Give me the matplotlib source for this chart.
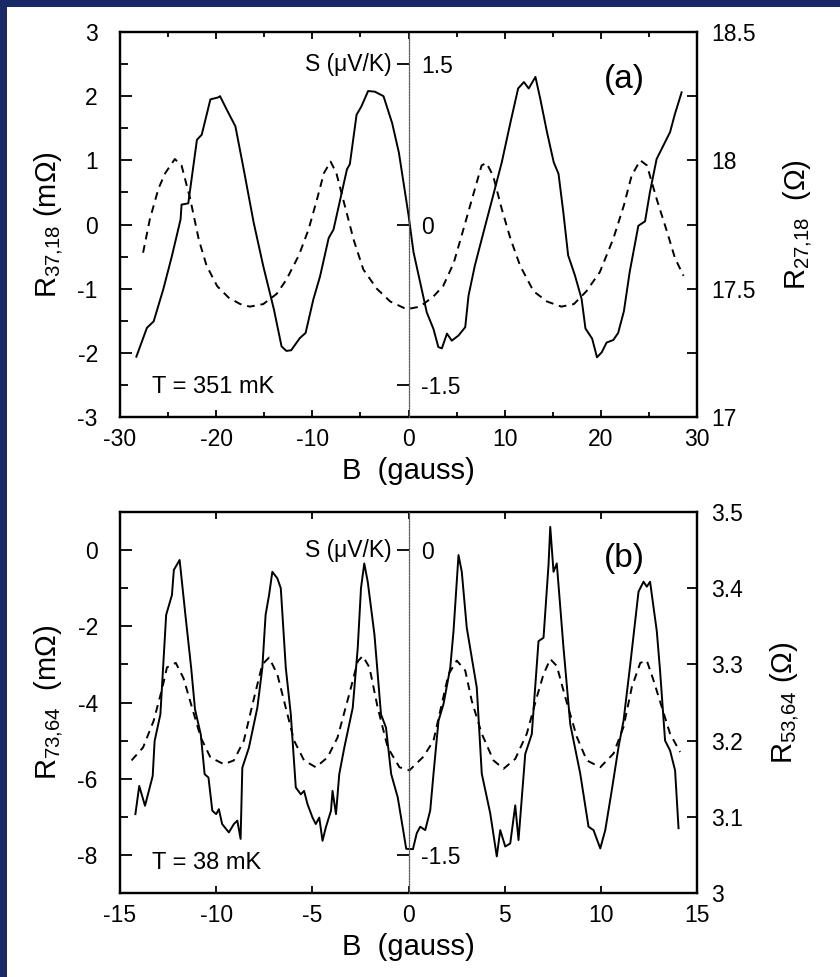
import matplotlib
matplotlib.use("Agg")
import matplotlib.pyplot as plt
from matplotlib.patches import Rectangle
from matplotlib.ticker import MultipleLocator, FixedLocator

plt.rcParams['font.family'] = ['Liberation Sans', 'DejaVu Sans']
plt.rcParams['mathtext.fontset'] = 'custom'
plt.rcParams['mathtext.rm'] = 'Liberation Sans'
plt.rcParams['mathtext.it'] = 'Liberation Sans'

# ---- panel (a): T = 351 mK ----
a_solid_B = [-28.3, -27.2, -26.5, -25.5, -24.6, -23.7, -23.6, -22.9, -22.0, -21.5, -20.6, -19.8,
             -19.6, -18.9, -18.0, -17.2, -16.1, -15.1, -14.0, -13.2, -12.7, -12.2, -11.3, -10.7,
             -9.9, -9.2, -8.3, -7.8, -7.1, -6.4, -6.1, -5.4, -4.9, -4.2, -3.5, -2.6, -1.7, -1.0,
             -0.35, 0.0, 0.52, 1.21, 1.9, 2.6, 3.1, 3.47, 4.0, 4.5, 5.2, 5.9, 6.24, 6.9, 7.8,
             8.8, 9.7, 10.6, 11.4, 12.0, 12.5, 13.2, 13.7, 14.4, 15.1, 15.6, 16.1, 16.6, 17.3,
             18.0, 18.4, 19.1, 19.6, 20.1, 20.6, 21.3, 21.8, 22.4, 23.0, 23.9, 24.6, 25.1, 25.8,
             26.5, 27.2, 27.7, 28.4]
a_solid_R = [-2.06, -1.61, -1.51, -1.01, -0.49, 0.08, 0.31, 0.33, 1.32, 1.40, 1.95, 1.98,
             2.00, 1.79, 1.53, 0.91, 0.03, -0.65, -1.32, -1.90, -1.97, -1.96, -1.77, -1.69,
             -1.17, -0.81, -0.21, -0.08, 0.39, 0.86, 0.94, 1.71, 1.84, 2.08, 2.07, 2.00, 1.58, 1.12,
             0.49, 0.15, -0.43, -0.90, -1.37, -1.63, -1.91, -1.93, -1.70, -1.81, -1.73, -1.60, -1.11,
             -0.64, -0.12, 0.45, 0.97, 1.59, 2.12, 2.22, 2.12, 2.30, 1.96, 1.44, 0.97, 0.79, 0.19,
             -0.48, -0.79, -1.16, -1.62, -1.78, -2.07, -1.99, -1.84, -1.80, -1.69, -1.35, -0.74,
             -0.02, 0.05, 0.50, 1.02, 1.23, 1.44, 1.72, 2.06]

a_dash_B = [-27.6, -26.9, -26.0, -25.3, -24.3, -23.6, -22.7, -21.8, -21.0, -19.9, -18.7, -17.5,
            -16.5, -15.1, -13.7, -12.7, -11.4, -10.4, -9.5, -8.8, -8.1, -7.5, -6.6, -5.7, -4.7,
            -3.3, -1.9, -0.2, 1.2, 2.6, 3.6, 4.7, 5.7, 6.8, 7.6, 8.1, 8.8, 9.7, 10.6, 11.6, 13.0,
            14.4, 15.9, 17.2, 18.5, 19.9, 21.3, 22.4, 23.2, 24.1, 24.8, 25.8, 26.9, 27.7, 28.6]
a_dash_R = [17.64, 17.77, 17.89, 17.95, 18.005, 17.98, 17.85, 17.69, 17.59, 17.51, 17.465, 17.44,
            17.43, 17.44, 17.48, 17.535, 17.63, 17.73, 17.85, 17.95, 17.995, 17.95, 17.82, 17.69,
            17.575, 17.50, 17.45, 17.42, 17.43, 17.47, 17.51, 17.60, 17.73, 17.875, 17.98, 17.99,
            17.94, 17.81, 17.695, 17.59, 17.49, 17.45, 17.43, 17.44, 17.49, 17.565, 17.695, 17.825,
            17.94, 18.00, 17.98, 17.85, 17.72, 17.62, 17.55]

# ---- panel (b): T = 38 mK ----
b_solid_B = [-14.2, -14.0, -13.7, -13.3, -13.2, -12.9, -12.6, -12.3, -12.2, -11.9, -11.6, -11.3,
             -11.1, -10.8, -10.6, -10.4, -10.2, -10.0, -9.86, -9.69, -9.34, -9.08, -8.9, -8.73,
             -8.64, -8.30, -7.86, -7.60, -7.43, -7.25, -7.08, -6.82, -6.64, -6.38, -6.12, -5.86,
             -5.6, -5.43, -5.25, -4.99, -4.82, -4.64, -4.47, -4.30, -4.03, -3.95, -3.77, -3.6,
             -3.34, -2.90, -2.64, -2.47, -2.30, -2.12, -1.77, -1.43, -1.17, -0.90, -0.56, -0.30,
             -0.12, 0.23, 0.43, 0.61, 0.87, 1.13, 1.30, 1.56, 1.82, 2.17, 2.34, 2.60, 2.77, 3.03,
             3.55, 3.81, 4.25, 4.59, 4.77, 5.03, 5.29, 5.55, 5.72, 6.07, 6.41, 6.76, 7.02, 7.28,
             7.37, 7.54, 7.71, 8.06, 8.41, 8.93, 9.36, 9.62, 9.97, 10.23, 10.57, 10.92, 11.18,
             11.53, 11.96, 12.22, 12.39, 12.56, 12.91, 13.08, 13.34, 13.60, 13.86, 14.04]
b_solid_R = [-6.93, -6.19, -6.71, -5.93, -5.01, -4.31, -1.70, -1.18, -0.52, -0.26, -1.70, -3.09,
             -4.18, -4.84, -5.88, -5.97, -6.84, -6.93, -6.80, -7.19, -7.41, -7.19, -7.10, -7.58,
             -5.71, -5.19, -4.14, -3.09, -1.70, -1.18, -0.57, -0.74, -1.00, -3.09, -4.31, -6.23,
             -6.41, -6.32, -6.67, -7.02, -7.19, -7.02, -7.63, -7.28, -6.84, -6.32, -6.93, -5.88,
             -5.19, -4.14, -2.57, -1.00, -0.35, -0.83, -2.22, -4.31, -4.66, -5.88, -6.49, -7.28,
             -7.84, -7.85, -7.43, -7.26, -7.35, -6.83, -5.87, -4.48, -4.04, -3.09, -2.13, -0.13,
             -0.57, -2.04, -3.61, -5.87, -6.91, -8.04, -7.35, -7.78, -7.70, -6.70, -7.61, -5.35,
             -4.83, -2.39, -2.30, -0.39, 0.61, -0.57, -0.35, -2.57, -4.57, -5.87, -7.26, -7.35,
             -7.83, -7.35, -6.30, -5.17, -4.48, -3.00, -1.09, -0.83, -0.96, -0.83, -2.13, -3.17,
             -5.00, -5.26, -5.78, -7.30]

b_dash_B = [-14.4, -13.8, -13.25, -12.8, -12.56, -12.1, -11.7, -11.25, -10.8, -10.3, -9.6, -9.08,
            -8.56, -8.03, -7.6, -7.25, -6.82, -6.38, -5.95, -5.43, -4.82, -4.21, -3.69, -3.08,
            -2.64, -2.38, -2.03, -1.6, -1.08, -0.47, 0.05, 0.78, 1.30, 1.65, 2.08, 2.51, 2.95,
            3.29, 3.81, 4.42, 4.94, 5.55, 6.15, 6.67, 7.02, 7.37, 7.71, 8.15, 8.75, 9.27, 9.97,
            10.66, 11.18, 11.61, 12.05, 12.39, 12.74, 13.17, 13.6, 14.12]
b_dash_R = [3.174, 3.191, 3.226, 3.269, 3.296, 3.302, 3.282, 3.243, 3.204, 3.178, 3.169, 3.174,
            3.200, 3.256, 3.300, 3.309, 3.287, 3.243, 3.200, 3.174, 3.165, 3.178, 3.204, 3.261,
            3.304, 3.311, 3.296, 3.243, 3.191, 3.165, 3.161, 3.179, 3.200, 3.239, 3.287, 3.305,
            3.292, 3.252, 3.209, 3.174, 3.163, 3.176, 3.209, 3.257, 3.287, 3.307, 3.298, 3.257,
            3.205, 3.174, 3.165, 3.183, 3.218, 3.270, 3.302, 3.305, 3.279, 3.244, 3.209, 3.185]

a_S_ticks = [-1.5, 0, 1.5]
b_S_ticks = [-1.5, 0]

W, H = 840, 977
fig = plt.figure(figsize=(W / 100, H / 100), dpi=100)
fig.patch.set_facecolor('#1a2a68')
fig.patches.append(Rectangle((7 / W, 0), 1, 1 - 7 / H, transform=fig.transFigure,
                             facecolor='white', edgecolor='none', zorder=-10))

TICK = 16.5
LAB = 21


def style(ax):
    for s in ax.spines.values():
        s.set_linewidth(1.6)
    ax.tick_params(which='both', direction='in', width=1.3, labelsize=TICK)
    ax.tick_params(axis='x', which='major', length=5, pad=8, top=True)
    ax.tick_params(axis='x', which='minor', length=3.5, top=True)
    ax.tick_params(axis='y', which='major', length=8.5, pad=16)
    ax.tick_params(axis='y', which='minor', length=5.5)


def panel(rect, sB, sR, dB, dR, xlim, ylim, rlim, xmaj, xmin, ymaj, ymin,
          rmaj, rmin, slim, sticks, slabels, ylabel, rlabel, tag, temp):
    ax = fig.add_axes(rect)
    ax.plot(sB, sR, color='black', lw=1.4)
    ax.set_xlim(*xlim)
    ax.set_ylim(*ylim)
    ax.xaxis.set_major_locator(MultipleLocator(xmaj))
    if xmin:
        ax.xaxis.set_minor_locator(MultipleLocator(xmin))
    ax.yaxis.set_major_locator(MultipleLocator(ymaj))
    ax.yaxis.set_minor_locator(MultipleLocator(ymin))
    ax.yaxis.set_major_formatter(lambda v, p: f"{v:g}")
    ax.xaxis.set_major_formatter(lambda v, p: f"{v:g}")
    style(ax)
    ax.set_xlabel('B  (gauss)', fontsize=LAB, labelpad=4)
    ax.set_ylabel(ylabel, fontsize=LAB, labelpad=9)

    ax2 = ax.twinx()
    ax2.plot(dB, dR, color='black', lw=1.4, dashes=(4, 3))
    ax2.set_ylim(*rlim)
    ax2.yaxis.set_major_locator(MultipleLocator(rmaj))
    if rmin:
        ax2.yaxis.set_minor_locator(MultipleLocator(rmin))
    ax2.yaxis.set_major_formatter(lambda v, p: f"{v:g}")
    for s in ax2.spines.values():
        s.set_linewidth(1.6)
    ax2.tick_params(which='both', direction='in', width=1.3, length=7, labelsize=TICK, pad=10)
    ax2.set_ylabel(rlabel, fontsize=LAB, labelpad=18)

    # inner thermopower axis at B = 0
    ax3 = ax.twinx()
    ax3.set_ylim(*slim)
    ax3.spines['right'].set_position(('data', 0))
    ax3.spines['right'].set_linestyle((0, (1, 1.2)))
    ax3.spines['right'].set_linewidth(0.9)
    ax3.spines['right'].set_color('#555555')
    for k in ('left', 'top', 'bottom'):
        ax3.spines[k].set_visible(False)
    ax3.yaxis.set_major_locator(FixedLocator(sticks))
    ax3.set_yticklabels(slabels)
    ax3.tick_params(direction='in', length=8.5, width=1.3, labelsize=TICK, pad=9, colors='black')
    ax3.text(-0.03 * (xlim[1] - xlim[0]), sticks[-1], 'S (\u03bcV/K)', fontsize=16.5,
             ha='right', va='center')

    ax.text(0.875, 0.877, tag, transform=ax.transAxes, fontsize=24, ha='center', va='center')
    ax.text(0.055, 0.078, temp, transform=ax.transAxes, fontsize=17, ha='left', va='center')
    return ax


panel([120 / W, 1 - 417 / H, 577 / W, 385 / H], a_solid_B, a_solid_R, a_dash_B, a_dash_R,
      (-30, 30), (-3, 3), (17, 18.5), 10, 5, 1, 0.5, 0.5, 0.25,
      (-1.8, 1.8), a_S_ticks, ['-1.5', '0', '1.5'],
      r'R$_{37{,}18}$ (m$\Omega$)', r'R$_{27{,}18}$  ($\Omega$)', '(a)', 'T = 351 mK')

panel([120 / W, 1 - 893 / H, 577 / W, 381 / H], b_solid_B, b_solid_R, b_dash_B, b_dash_R,
      (-15, 15), (-9, 1), (3, 3.5), 5, None, 2, 1, 0.1, None,
      (-1.6875, 0.1875), b_S_ticks, ['-1.5', '0'],
      r'R$_{73{,}64}$  (m$\Omega$)', r'R$_{53{,}64}$ ($\Omega$)', '(b)', 'T = 38 mK')

fig.savefig('out.png', dpi=100, facecolor=fig.get_facecolor())
